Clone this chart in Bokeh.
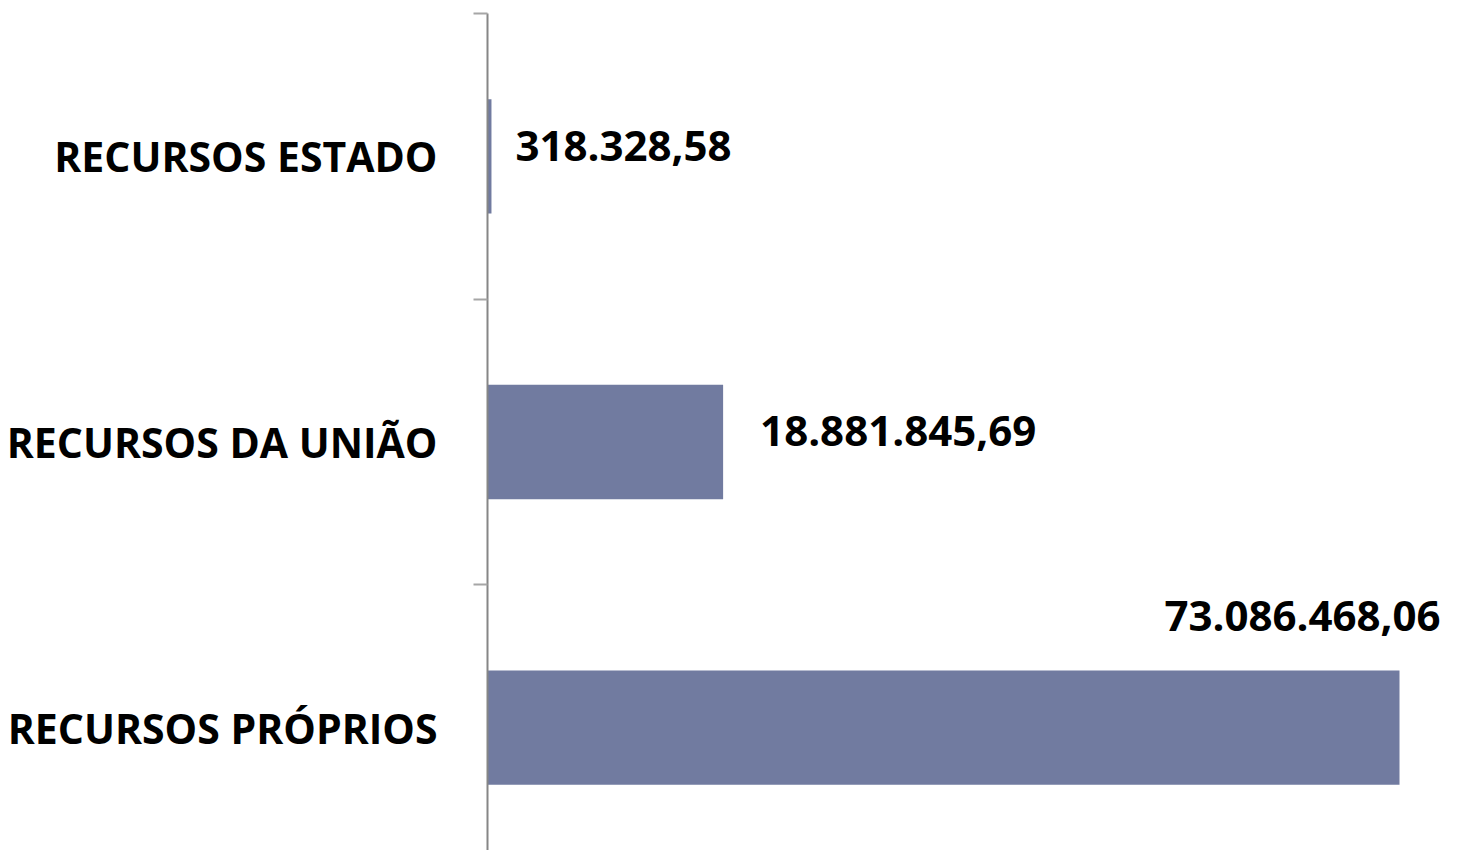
from bokeh.plotting import figure
from bokeh.models import Range1d, FixedTicker, Label, LinearAxis
from bokeh.embed import file_html
from bokeh.resources import INLINE

# Data (bottom to top)
categories = ["RECURSOS PRÓPRIOS", "RECURSOS DA UNIÃO", "RECURSOS ESTADO"]
values = [73086468.06, 18881845.69, 318328.58]
value_labels = ["73.086.468,06", "18.881.845,69", "318.328,58"]

positions = [i + 0.5 for i in range(len(categories))]
boundaries = list(range(len(categories) + 1))

BAR_COLOR = "#717ba0"
FONT = "Open Sans"

p = figure(width=1441, height=850, output_backend="svg", toolbar_location=None,
           x_range=Range1d(0, max(values) * 954 / 912),
           y_range=Range1d(0.07, len(categories)),
           min_border_left=487, min_border_right=0, min_border_top=13, min_border_bottom=0)
p.outline_line_color = None
p.xgrid.visible = False
p.ygrid.visible = False
p.xaxis.visible = False

p.hbar(y=positions, right=values, left=0, height=0.4, fill_color=BAR_COLOR, line_color=None)

# axis with ticks at category boundaries
ax = p.yaxis[0]
ax.ticker = FixedTicker(ticks=boundaries)
ax.minor_tick_line_color = None
ax.major_tick_in = 0
ax.major_tick_out = 14
ax.major_tick_line_color = "#a6a6a6"
ax.major_tick_line_width = 2
ax.axis_line_color = "#868686"
ax.axis_line_width = 2
ax.major_label_text_alpha = 0
ax.major_label_text_font_size = "0px"
ax.major_label_standoff = 0

# axis carrying the category names
cat_axis = LinearAxis(ticker=FixedTicker(ticks=positions),
                      major_label_overrides={pos: cat for pos, cat in zip(positions, categories)},
                      axis_line_color=None, major_tick_line_color=None,
                      minor_tick_line_color=None, major_tick_in=0, major_tick_out=0,
                      major_label_standoff=36,
                      major_label_text_font=FONT, major_label_text_font_style="bold",
                      major_label_text_font_size="41px", major_label_text_color="black")
p.add_layout(cat_axis, "left")

# value labels: (x_offset, y_offset, align)
label_style = [(41, 112, "right"), (37, 11, "left"), (24, 10, "left")]
for v, y, txt, (dx, dy, al) in zip(values, positions, value_labels, label_style):
    p.add_layout(Label(x=v, y=y, text=txt, x_offset=dx, y_offset=dy,
                       text_align=al, text_baseline="alphabetic",
                       text_font=FONT, text_font_style="bold", text_font_size="42px",
                       text_color="black"))

open("out.html", "w").write(file_html(p, INLINE))
